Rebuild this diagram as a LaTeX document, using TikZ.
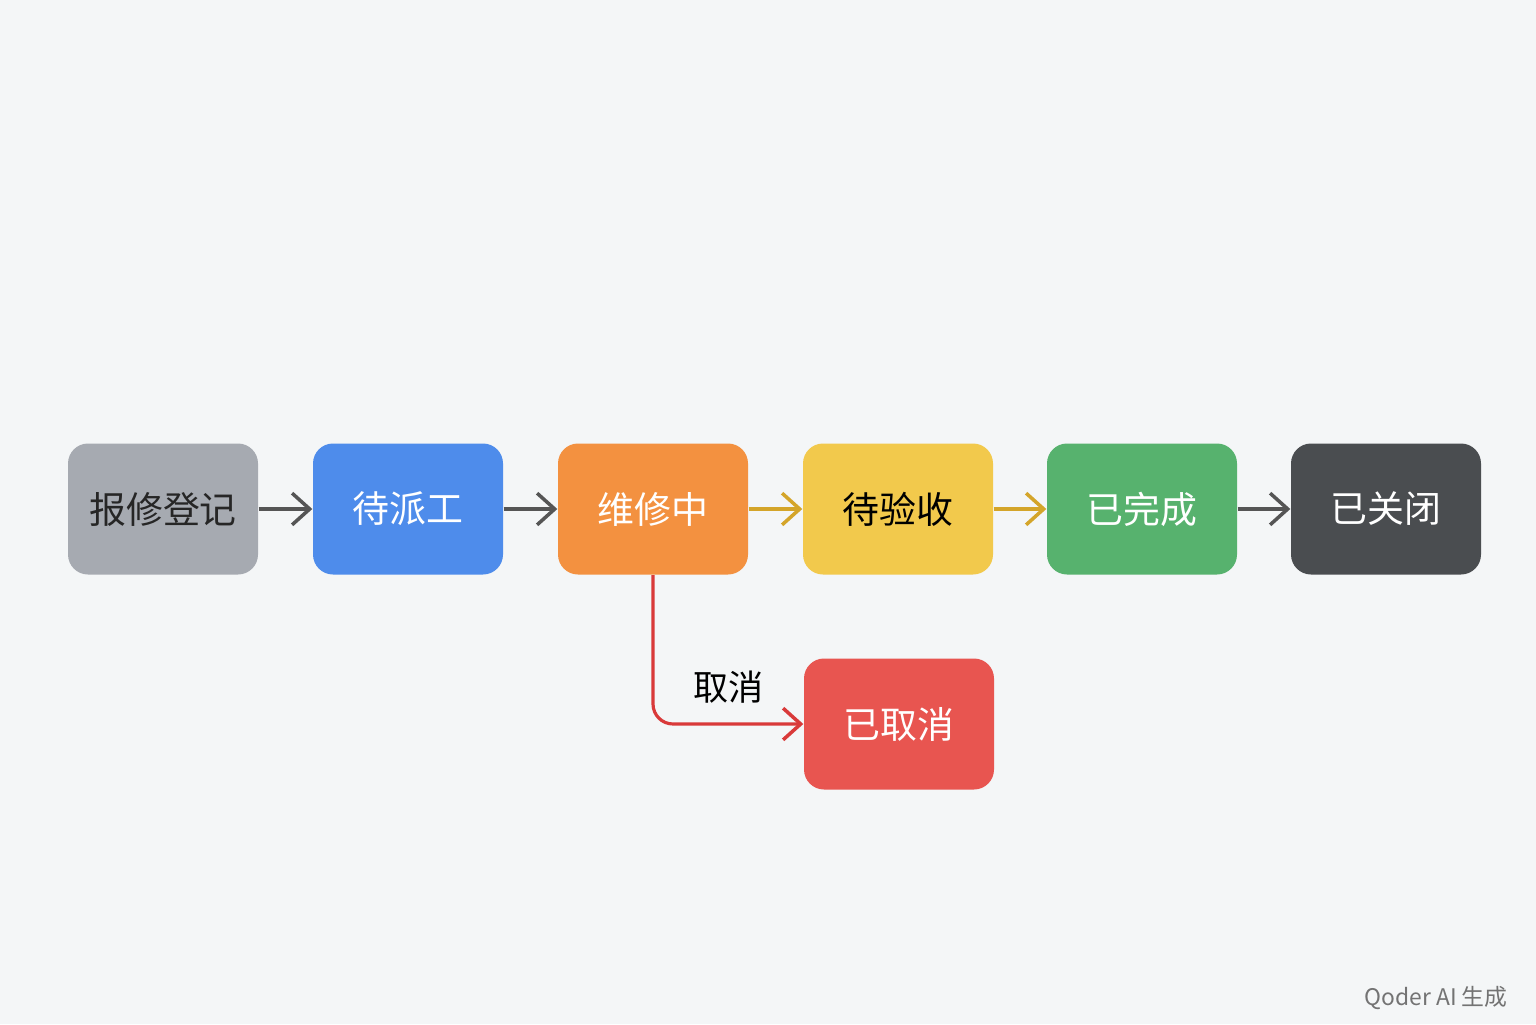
\documentclass[tikz,border=0pt]{standalone}
\usepackage{fontspec}
\setmainfont{Noto Sans CJK SC}
\usetikzlibrary{positioning,arrows.meta}
\definecolor{bgc}{HTML}{F4F6F7}
\definecolor{grayc}{HTML}{A6AAB1}
\definecolor{bluec}{HTML}{4E8CEB}
\definecolor{orangec}{HTML}{F39140}
\definecolor{yellowc}{HTML}{F2C94C}
\definecolor{greenc}{HTML}{57B26E}
\definecolor{darkc}{HTML}{4A4D50}
\definecolor{redc}{HTML}{E85550}
\definecolor{arrc}{HTML}{555555}
\definecolor{goldc}{HTML}{D4A52A}
\definecolor{cancelc}{HTML}{D93A3A}
\tikzset{
  state/.style={rectangle, rounded corners=0.2cm, minimum width=1.9cm, minimum height=1.31cm,
    inner sep=0pt, font=\fontsize{10.5}{13}\selectfont, text=white},
  flow/.style={-{Straight Barb[length=5pt, width=9pt, line width=1pt]}, line width=1.1pt}
}
\begin{document}
\begin{tikzpicture}
  \fill[bgc] (0,0) rectangle (15.36,10.24);
  \useasboundingbox (0,0) rectangle (15.36,10.24);

  \node[state, fill=grayc, text=black!85] (reg) at (1.63,5.15) {报修登记};
  \node[state, fill=bluec] (wait) at (4.08,5.15) {待派工};
  \node[state, fill=orangec] (fix) at (6.53,5.15) {维修中};
  \node[state, fill=yellowc, text=black] (check) at (8.98,5.15) {待验收};
  \node[state, fill=greenc] (done) at (11.42,5.15) {已完成};
  \node[state, fill=darkc] (closed) at (13.86,5.15) {已关闭};
  \node[state, fill=redc] (cancel) at (8.99,3.00) {已取消};

  \draw[flow, arrc] (reg) -- (wait);
  \draw[flow, arrc] (wait) -- (fix);
  \draw[flow, goldc] (fix) -- (check);
  \draw[flow, goldc] (check) -- (done);
  \draw[flow, arrc] (done) -- (closed);
  \draw[flow, cancelc, line width=0.9pt, rounded corners=0.2cm] (fix.south) |- (cancel.west)
    node[pos=0.75, above=2pt, text=black, font=\fontsize{10}{12}\selectfont] (lbl) {取消};

  \node[text=black!55, font=\fontsize{6.5}{8}\selectfont, anchor=east] (mark) at (15.2,0.26) {Qoder AI 生成};
\end{tikzpicture}
\end{document}
